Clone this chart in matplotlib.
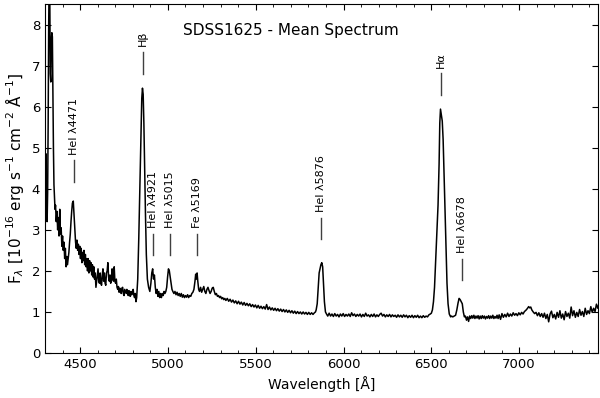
import matplotlib
matplotlib.use('Agg')
import matplotlib.pyplot as plt
import numpy as np
from matplotlib.ticker import MultipleLocator

# Spectrum, (wavelength [A], flux [1e-16 erg/s/cm2/A])
# split in pieces going from blue to red
hgamma_part = [(4300, 3.3), (4303, 4.2), (4306, 4.85), (4309, 3.4), (4312, 3.2),
               (4315, 3.9), (4318, 5.6), (4321, 8.0), (4324, 9.2), (4327, 8.9),
               (4330, 6.8), (4333, 6.6), (4336, 7.6), (4339, 7.8), (4342, 7.7),
               (4345, 6.4), (4348, 5.0), (4351, 4.1), (4354, 3.8), (4357, 3.5)]

blue_part = [(4360, 3.6), (4364, 3.2), (4368, 3.45), (4372, 3.0), (4376, 3.3),
             (4380, 2.85), (4384, 3.5), (4388, 2.9), (4392, 3.05), (4396, 2.6),
             (4400, 2.85), (4404, 2.5), (4408, 2.7), (4412, 2.3), (4416, 2.55),
             (4420, 2.1), (4424, 2.35), (4428, 2.15), (4432, 2.3), (4436, 2.45),
             (4440, 2.7), (4444, 2.9), (4448, 3.2), (4452, 3.45), (4456, 3.65),
             (4461, 3.7), (4466, 3.3), (4470, 2.95), (4474, 2.7), (4478, 2.55),
             (4482, 2.75), (4486, 2.5), (4490, 2.65), (4494, 2.4), (4498, 2.6),
             (4502, 2.3), (4506, 2.55), (4510, 2.2), (4514, 2.45), (4518, 2.25),
             (4522, 2.5), (4526, 2.15), (4530, 2.4), (4534, 2.1), (4538, 2.3),
             (4542, 2.0), (4546, 2.3), (4550, 1.95), (4554, 2.25), (4558, 2.0),
             (4562, 2.2), (4566, 1.9), (4570, 2.15), (4574, 1.85), (4578, 2.1),
             (4582, 1.8), (4586, 1.95), (4590, 1.6), (4594, 1.75), (4598, 1.9),
             (4602, 2.05), (4606, 1.75), (4610, 1.7), (4614, 1.95), (4618, 1.7),
             (4622, 1.65), (4626, 1.9), (4630, 2.05), (4634, 1.75), (4638, 1.95),
             (4642, 1.7), (4646, 1.65), (4650, 1.95), (4654, 2.0), (4658, 2.2),
             (4662, 1.85), (4666, 1.75), (4670, 1.9), (4674, 1.7), (4678, 1.8),
             (4682, 2.05), (4686, 1.8), (4690, 1.75), (4694, 2.1), (4698, 1.75),
             (4702, 1.7), (4706, 1.8), (4710, 1.6), (4714, 1.55), (4718, 1.62),
             (4722, 1.48), (4726, 1.58), (4730, 1.5), (4734, 1.45), (4738, 1.58),
             (4742, 1.6), (4746, 1.45), (4750, 1.4), (4754, 1.55), (4758, 1.5),
             (4762, 1.45), (4766, 1.55), (4770, 1.45), (4774, 1.4), (4778, 1.52),
             (4782, 1.4), (4786, 1.38), (4790, 1.5), (4794, 1.42), (4798, 1.48),
             (4802, 1.55), (4806, 1.4), (4810, 1.35), (4814, 1.45), (4818, 1.25)]

hbeta_part = [(4822, 1.35), (4828, 1.8), (4834, 2.8), (4840, 4.0), (4846, 5.3),
              (4851, 6.2), (4855, 6.45), (4859, 6.3), (4863, 5.6), (4867, 4.6),
              (4872, 3.4), (4877, 2.4), (4883, 1.8), (4890, 1.6)]

green_part = [(4897, 1.5), (4903, 1.7), (4908, 1.95), (4913, 2.05), (4918, 1.8),
              (4923, 1.9), (4928, 1.6), (4933, 1.45), (4938, 1.55), (4943, 1.38),
              (4948, 1.5), (4953, 1.35), (4958, 1.45), (4963, 1.35), (4968, 1.45),
              (4973, 1.4), (4978, 1.5), (4983, 1.45), (4988, 1.5), (4993, 1.6),
              (4998, 1.85), (5003, 2.05), (5008, 2.0), (5013, 1.85), (5018, 1.7),
              (5023, 1.55), (5028, 1.5), (5034, 1.45), (5040, 1.5), (5046, 1.42),
              (5052, 1.48), (5058, 1.4), (5064, 1.45), (5070, 1.38), (5076, 1.45),
              (5082, 1.36), (5088, 1.42), (5094, 1.35), (5100, 1.4), (5106, 1.36),
              (5112, 1.42), (5118, 1.35), (5124, 1.4), (5130, 1.38), (5136, 1.45),
              (5142, 1.48), (5148, 1.55), (5154, 1.75), (5158, 1.92), (5162, 1.8),
              (5166, 1.95), (5170, 1.75), (5175, 1.55), (5180, 1.5), (5186, 1.6),
              (5192, 1.48), (5198, 1.55), (5204, 1.62), (5210, 1.5), (5216, 1.45),
              (5222, 1.55), (5228, 1.6), (5234, 1.52), (5240, 1.45), (5246, 1.5),
              (5252, 1.58), (5258, 1.6), (5264, 1.5), (5270, 1.42), (5276, 1.45),
              (5282, 1.38), (5288, 1.4), (5294, 1.35), (5300, 1.38), (5306, 1.32),
              (5312, 1.35), (5318, 1.3), (5324, 1.33), (5330, 1.28)]

yellow_part = [(5338, 1.33), (5346, 1.26), (5354, 1.31), (5362, 1.24), (5370, 1.29),
               (5378, 1.22), (5386, 1.27), (5394, 1.2), (5402, 1.26), (5410, 1.19),
               (5418, 1.24), (5426, 1.17), (5434, 1.23), (5442, 1.16), (5450, 1.21),
               (5458, 1.15), (5466, 1.2), (5474, 1.13), (5482, 1.18), (5490, 1.12),
               (5498, 1.17), (5506, 1.1), (5514, 1.16), (5522, 1.09), (5530, 1.14),
               (5538, 1.08), (5546, 1.13), (5554, 1.07), (5562, 1.18), (5570, 1.06),
               (5578, 1.12), (5586, 1.05), (5594, 1.1), (5602, 1.04), (5610, 1.09),
               (5618, 1.03), (5626, 1.08), (5634, 1.02), (5642, 1.07), (5650, 1.01),
               (5658, 1.06), (5666, 1.0), (5674, 1.05), (5682, 0.99), (5690, 1.04),
               (5698, 0.98), (5706, 1.03), (5714, 0.97), (5722, 1.02), (5730, 0.96),
               (5738, 1.01), (5746, 0.96), (5754, 1.0), (5762, 0.95), (5770, 1.0),
               (5778, 0.95), (5786, 0.99), (5794, 0.94), (5802, 0.99), (5810, 0.94),
               (5818, 0.98), (5826, 0.94), (5834, 0.98), (5840, 1.0)]

hei5876_part = [(5844, 1.05), (5850, 1.2), (5856, 1.6), (5861, 1.95), (5866, 2.05),
                (5871, 2.15), (5876, 2.2), (5881, 2.1), (5886, 1.7), (5891, 1.25),
                (5897, 1.0), (5903, 0.95), (5910, 0.9)]

orange_part = [(5918, 0.97), (5926, 0.9), (5934, 0.95), (5942, 0.89), (5950, 0.96),
               (5958, 0.9), (5966, 0.94), (5974, 0.88), (5982, 0.95), (5990, 0.9),
               (5998, 0.96), (6006, 0.89), (6014, 0.94), (6022, 0.9), (6030, 0.95),
               (6038, 0.89), (6046, 0.98), (6054, 0.91), (6062, 0.95), (6070, 0.89),
               (6078, 0.94), (6086, 0.9), (6094, 0.95), (6102, 0.88), (6110, 0.94),
               (6118, 0.89), (6126, 0.97), (6134, 0.9), (6142, 0.93), (6150, 0.88),
               (6158, 0.94), (6166, 0.89), (6174, 0.95), (6182, 0.88), (6190, 0.93),
               (6198, 0.89), (6206, 0.94), (6214, 0.97), (6222, 0.9), (6230, 0.94),
               (6238, 0.88), (6246, 0.93), (6254, 0.89), (6262, 0.94), (6270, 0.88),
               (6278, 0.93), (6286, 0.89), (6294, 0.92), (6302, 0.87), (6310, 0.93),
               (6318, 0.88), (6326, 0.92), (6334, 0.87), (6342, 0.93), (6350, 0.88),
               (6358, 0.92), (6366, 0.86), (6374, 0.91), (6382, 0.87), (6390, 0.92),
               (6398, 0.86), (6406, 0.91), (6414, 0.87), (6422, 0.92), (6430, 0.86),
               (6438, 0.9), (6446, 0.86), (6454, 0.91), (6462, 0.87), (6470, 0.9),
               (6478, 0.88), (6486, 0.93), (6494, 0.95)]

halpha_part = [(6500, 0.97), (6506, 1.05), (6512, 1.25), (6518, 1.6), (6525, 2.3),
               (6532, 3.0), (6538, 3.6), (6544, 4.6), (6548, 5.6), (6552, 5.94),
               (6557, 5.8), (6562, 5.65), (6567, 5.2), (6572, 4.4), (6577, 3.6),
               (6583, 2.6), (6589, 1.7), (6595, 1.2), (6602, 0.95), (6610, 0.88)]

red_part = [(6615, 0.9), (6622, 0.88), (6630, 0.9), (6638, 0.92), (6645, 1.05),
            (6652, 1.22), (6658, 1.33), (6664, 1.3), (6670, 1.25), (6676, 1.2),
            (6682, 1.0), (6688, 0.88), (6694, 0.9), (6700, 0.8), (6706, 0.88),
            (6712, 0.77), (6718, 0.9), (6724, 0.84), (6730, 0.91), (6736, 0.85),
            (6742, 0.92), (6748, 0.84), (6754, 0.9), (6760, 0.85), (6766, 0.91),
            (6772, 0.83), (6778, 0.9), (6784, 0.84), (6790, 0.91), (6796, 0.85),
            (6802, 0.9), (6808, 0.83), (6814, 0.89), (6820, 0.85), (6826, 0.91),
            (6832, 0.84), (6838, 0.9), (6844, 0.85), (6850, 0.92), (6856, 0.84),
            (6862, 0.89), (6868, 0.85), (6874, 0.92), (6880, 0.84), (6886, 0.93),
            (6894, 0.82), (6902, 0.96), (6910, 0.87), (6918, 0.94), (6926, 0.88),
            (6934, 0.97), (6942, 0.89), (6950, 0.95), (6958, 0.9), (6966, 0.98),
            (6974, 0.92), (6982, 0.96), (6990, 0.91), (6998, 0.98), (7006, 0.93),
            (7014, 0.99), (7022, 0.95), (7030, 1.01), (7038, 1.04), (7046, 1.08),
            (7054, 1.13), (7060, 1.1), (7066, 1.12), (7072, 1.05), (7080, 1.0),
            (7088, 0.96), (7096, 0.99), (7104, 0.91), (7112, 0.98), (7120, 0.89),
            (7128, 0.96), (7136, 0.87), (7144, 0.97), (7152, 0.84), (7160, 0.94),
            (7168, 0.76), (7176, 0.95), (7184, 1.02), (7192, 0.86), (7200, 0.94),
            (7208, 0.83), (7216, 0.99), (7224, 0.87), (7232, 1.03), (7240, 0.85),
            (7248, 0.95), (7256, 0.81), (7264, 1.01), (7272, 0.89), (7280, 0.97),
            (7288, 0.85), (7296, 1.12), (7304, 0.91), (7312, 1.03), (7320, 0.87),
            (7328, 0.99), (7336, 0.89), (7344, 1.06), (7352, 0.92), (7360, 1.01),
            (7368, 0.89), (7376, 1.09), (7384, 0.94), (7392, 1.03), (7400, 0.96),
            (7408, 1.13), (7416, 0.99), (7424, 1.09), (7432, 1.01), (7440, 1.19),
            (7448, 1.09), (7456, 1.22)]

# Line identifications
line_names = ['HeI \u03bb4471', 'H\u03b2', 'HeI \u03bb4921', 'HeI \u03bb5015',
              'Fe \u03bb5169', 'HeI \u03bb5876', 'H\u03b1', 'HeI \u03bb6678']
line_waves = [4465, 4856, 4916, 5011, 5163, 5874, 6557, 6677]
mark_bottom = [4.16, 6.8, 2.38, 2.38, 2.38, 2.77, 6.28, 1.77]

# put the pieces together
spectrum = np.array(hgamma_part + blue_part + hbeta_part + green_part + yellow_part
                    + hei5876_part + orange_part + halpha_part + red_part)
wave = spectrum[:, 0]
flux = spectrum[:, 1]

fig = plt.figure(figsize=(6, 3.98), dpi=100)
ax = fig.add_axes([0.075, 0.113, 0.922, 0.877])

ax.plot(wave, flux, color='black', lw=1.1)

# short marks and labels above each line
for name, w, lo in zip(line_names, line_waves, mark_bottom):
    ax.plot([w, w], [lo, lo + 0.53], color='0.25', lw=1)
    ax.annotate(name, xy=(w, lo + 0.53), xytext=(0, 4), textcoords='offset points',
                rotation=90, ha='center', va='bottom', fontsize=8)

ax.text(0.444, 0.925, 'SDSS1625 - Mean Spectrum', transform=ax.transAxes,
        ha='center', va='center', fontsize=11)

ax.set_xlim(4300, 7450)
ax.set_ylim(0, 8.5)
ax.xaxis.set_major_locator(MultipleLocator(500))
ax.xaxis.set_minor_locator(MultipleLocator(100))
ax.yaxis.set_major_locator(MultipleLocator(1))
ax.tick_params(which='both', direction='in', top=True, right=True, labelsize=9.5)
ax.tick_params(which='major', length=4.5)
ax.tick_params(which='minor', length=2.2)

ax.set_xlabel('Wavelength [\u00c5]', fontsize=10)
ax.set_ylabel(r'F$_\lambda$ [10$^{-16}$ erg s$^{-1}$ cm$^{-2}$ $\mathrm{\AA}^{-1}$]',
              fontsize=11, labelpad=4)

plt.savefig('out.png', dpi=100)
